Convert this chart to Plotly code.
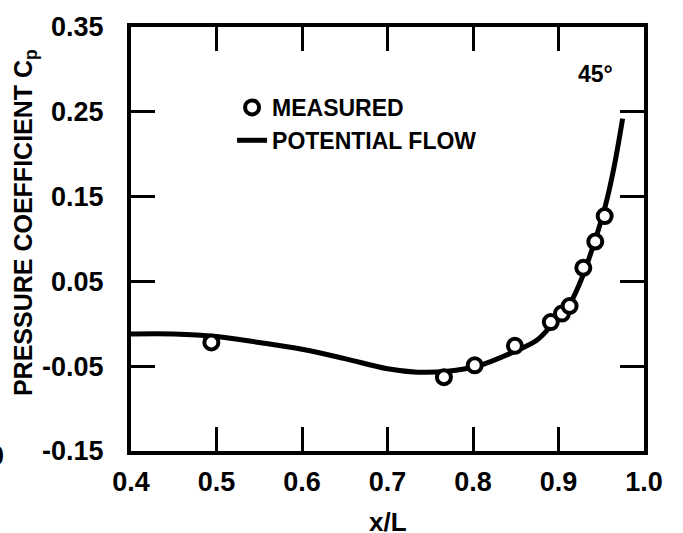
import plotly.graph_objects as go

# Measured pressure coefficients (45 deg)
meas_x = [0.494, 0.766, 0.802, 0.849, 0.891, 0.904, 0.913, 0.929, 0.943, 0.954]
meas_cp = [-0.022, -0.063, -0.049, -0.026, 0.002, 0.012, 0.021, 0.066, 0.097, 0.127]

# Potential-flow curve
pot_x = [0.40, 0.45, 0.50, 0.55, 0.60, 0.65, 0.70, 0.735, 0.77, 0.805, 0.85, 0.875,
         0.89, 0.91, 0.925, 0.94, 0.955, 0.965, 0.975]
pot_cp = [-0.012, -0.012, -0.015, -0.022, -0.030, -0.041, -0.053, -0.057, -0.056, -0.050,
          -0.032, -0.019, -0.004, 0.018, 0.048, 0.090, 0.140, 0.185, 0.242]

x_ticks = [0.4, 0.5, 0.6, 0.7, 0.8, 0.9, 1.0]
x_ticktext = ["0.4", "0.5", "0.6", "0.7", "0.8", "0.9", "1.0"]
y_ticks = [-0.15, -0.05, 0.05, 0.15, 0.25, 0.35]
y_ticktext = ["-0.15", "-0.05", "0.05", "0.15", "0.25", "0.35"]

FONT = "Liberation Sans"

fig = go.Figure()
fig.add_trace(go.Scatter(
    x=pot_x, y=pot_cp, mode="lines", name="POTENTIAL FLOW",
    line=dict(color="black", width=5, shape="spline", smoothing=1.0),
    legendrank=2,
))
fig.add_trace(go.Scatter(
    x=meas_x, y=meas_cp, mode="markers", name="MEASURED",
    marker=dict(symbol="circle", size=14, color="white",
                line=dict(color="black", width=4)),
    legendrank=1,
))

axis_common = dict(
    showline=True, linewidth=4, linecolor="black", mirror="ticks",
    ticks="inside", ticklen=24, tickwidth=3, tickcolor="black",
    showgrid=False, zeroline=False,
    tickfont=dict(family=FONT, size=27, color="black", weight="bold"),
)

fig.update_xaxes(range=[0.4, 1.0], tickvals=x_ticks, ticktext=x_ticktext,
                 ticklabelstandoff=4, **axis_common)
fig.update_yaxes(range=[-0.15, 0.35], tickvals=y_ticks, ticktext=y_ticktext,
                 ticklabelstandoff=18, **axis_common)

fig.update_layout(
    width=683, height=533,
    margin=dict(l=131, r=39, t=25, b=82),
    paper_bgcolor="white", plot_bgcolor="white",
    font=dict(family=FONT, color="black", weight="bold"),
    showlegend=True,
    legend=dict(x=0.197, y=0.861, xanchor="left", yanchor="top",
                bgcolor="rgba(0,0,0,0)", borderwidth=0,
                font=dict(family=FONT, size=23, color="black", weight="bold"),
                tracegroupgap=0, itemwidth=30),
    annotations=[
        dict(text="PRESSURE COEFFICIENT C<sub>p</sub>", textangle=-90,
             xref="paper", yref="paper", x=-0.2066, y=0.5376,
             xanchor="center", yanchor="middle", showarrow=False,
             font=dict(family=FONT, size=25, color="black", weight="bold")),
        dict(text="x/L", xref="paper", yref="paper", x=0.5, y=-0.168,
             xanchor="center", yanchor="middle", showarrow=False,
             font=dict(family=FONT, size=26, color="black", weight="bold")),
        dict(text="45°", xref="paper", yref="paper", x=0.9045, y=0.8897,
             xanchor="center", yanchor="middle", showarrow=False,
             font=dict(family=FONT, size=23, color="black", weight="bold")),
        dict(text="0", xref="paper", yref="paper", x=-0.262, y=-0.012,
             xanchor="center", yanchor="middle", showarrow=False,
             font=dict(family=FONT, size=27, color="black", weight="bold")),
    ],
)

fig.write_html("out.html", config={"displayModeBar": False},
               post_script="document.body.style.margin='0';")
